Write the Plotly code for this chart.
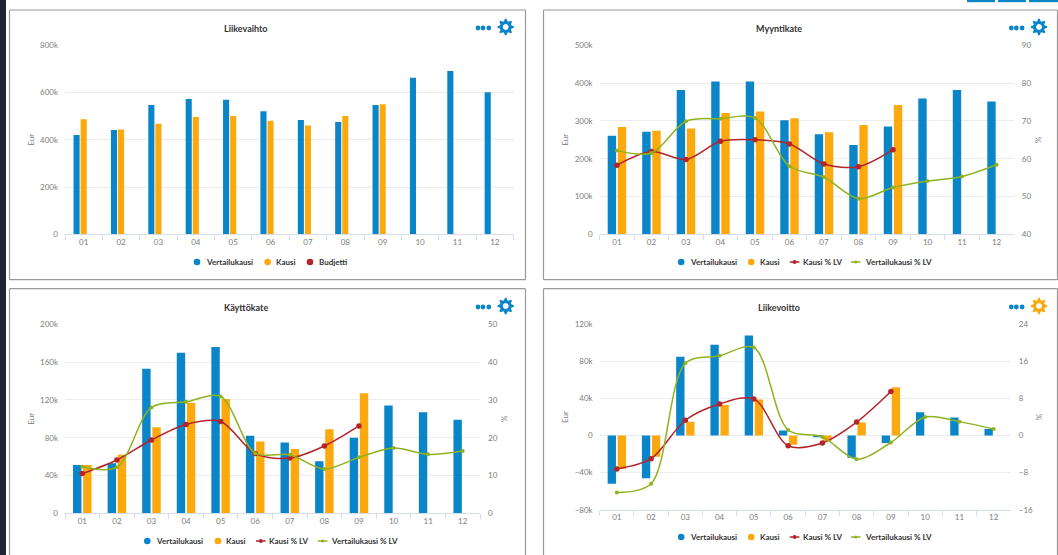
import math
import plotly.graph_objects as go

months = ["01", "02", "03", "04", "05", "06", "07", "08", "09", "10", "11", "12"]

lv_vertailu = [420, 442, 547, 573, 569, 521, 484, 475, 547, 663, 691, 601]
lv_kausi = [487, 444, 468, 497, 501, 481, 461, 501, 550, None, None, None]

mk_vertailu = [261, 271, 382, 404, 404, 302, 265, 236, 285, 359, 382, 351]
mk_kausi = [284, 274, 280, 321, 325, 307, 270, 289, 342, None, None, None]
mk_kausi_pct = [58.3, 61.9, 59.8, 64.6, 65.0, 63.9, 58.6, 57.9, 62.4, None, None, None]
mk_vert_pct = [62.2, 61.5, 69.9, 70.6, 70.8, 58.0, 55.1, 49.4, 52.4, 54.1, 55.3, 58.4]

kk_vertailu = [51, 53, 153, 170, 176, 82, 75, 55, 80, 114, 107, 99]
kk_kausi = [51, 62, 91, 117, 121, 76, 68, 89, 127, None, None, None]
kk_kausi_pct = [10.5, 14.1, 19.4, 23.5, 24.3, 15.8, 14.6, 17.8, 23.1, None, None, None]
kk_vert_pct = [12.3, 12.2, 28.0, 29.5, 30.9, 15.9, 15.5, 11.7, 14.8, 17.3, 15.6, 16.5]

lo_vertailu = [-52, -46, 85, 98, 108, 5.5, -1, -24, -8, 25, 19.5, 7]
lo_kausi = [-36, -23, 15, 33, 39, -10, -6, 14, 52, None, None, None]
lo_kausi_pct = [-7.2, -5.0, 3.3, 6.8, 7.9, -2.2, -1.6, 2.9, 9.5, None, None, None]
lo_vert_pct = [-12.3, -10.4, 15.6, 17.2, 19.0, 1.2, -0.3, -5.1, -1.5, 4.0, 3.0, 1.4]

W, H = 1058, 555
BLUE, ORANGE, RED, GREEN = "#0a85c7", "#fca90f", "#b5242a", "#8fb31f"
GRID, AXIS, TICK = "#ececec", "#d5dfec", "#7d7d7d"
TICKFONT = dict(family="Lato", size=8, color=TICK)
TITLEFONT = dict(family="Lato", size=8, color=TICK)
LEGFONT = dict(family="Lato", size=8, color="#333333", weight="bold")


def fx(p):
    return p / W


def fy(p):
    return 1 - p / H


fig = go.Figure()
shapes, annotations = [], []


def gear_path(cx, cy, ro=8.2, ri=5.9, hole=2.9, teeth=8):
    pts = []
    n = teeth * 4
    for i in range(n):
        a = 2 * math.pi * (i - 0.5) / n
        r = ro if i % 4 in (0, 1) else ri
        pts.append((cx + r * math.cos(a), cy + r * math.sin(a)))
    d = "M" + " L".join(f"{fx(x):.5f},{fy(y):.5f}" for x, y in pts) + " Z "
    hp = [(cx + hole * math.cos(-2 * math.pi * i / 24), cy + hole * math.sin(-2 * math.pi * i / 24)) for i in range(24)]
    d += "M" + " L".join(f"{fx(x):.5f},{fy(y):.5f}" for x, y in reversed(hp)) + " Z"
    return d


def line(x0, y0, x1, y1, color, width):
    shapes.append(dict(type="line", xref="paper", yref="paper", x0=fx(x0), x1=fx(x1), y0=fy(y0), y1=fy(y1),
                       line=dict(color=color, width=width)))


def dot(cx, cy, r, color):
    shapes.append(dict(type="circle", xref="paper", yref="paper", line_width=0, fillcolor=color,
                       x0=fx(cx - r), x1=fx(cx + r), y0=fy(cy + r), y1=fy(cy - r)))


def label(text, x, y, font, anchor="left", angle=0):
    annotations.append(dict(text=text, xref="paper", yref="paper", x=fx(x), y=fy(y), showarrow=False,
                            xanchor=anchor, yanchor="middle", font=font, borderpad=0, textangle=angle))


def legend(entries, y):
    for kind, color, mx, text, tx in entries:
        if kind == "dot":
            dot(mx, y, 3.3, color)
        else:
            line(mx - 4.8, y, mx + 4.8, y, color, 1.5)
            dot(mx, y, 2.0 if color == RED else 1.6, color)
        label(text, tx, y, LEGFONT)


def panel(idx, box, plot, title, title_xy, left, right, vert, kausi, kausi_pct, vert_pct, leg, icon_y,
          closed=True, gear_color=BLUE, three=False, bar=(0.243, 0.293)):
    xn = "x" if idx == 1 else f"x{idx}"
    yl_i = 2 * idx - 1
    yr_i = 2 * idx
    yl = "y" if yl_i == 1 else f"y{yl_i}"
    yr = f"y{yr_i}"
    px0, py0, px1, py1 = plot

    fig.update_layout({
        ("xaxis" if idx == 1 else f"xaxis{idx}"): dict(
            domain=[fx(px0), fx(px1)], anchor=yl, type="category", tickson="boundaries",
            range=[-0.5, len(months) - 0.5], autorange=False,
            ticks="outside", ticklen=5, tickcolor=AXIS, showline=True, linecolor=AXIS, linewidth=1,
            showgrid=False, tickfont=TICKFONT, automargin=False),
        ("yaxis" if idx == 1 else f"yaxis{yl_i}"): dict(
            domain=[fy(py1), fy(py0)], anchor=xn, range=left[0], dtick=left[1], tickformat="~s",
            gridcolor=GRID, gridwidth=1, zeroline=False, showline=False, tickfont=TICKFONT, ticklabelstandoff=6,
            automargin=False, title=dict(text="Eur", standoff=4, font=TITLEFONT)),
    })
    w, p = bar
    fig.add_bar(x=months, y=[None if v is None else v * 1000 for v in vert], xaxis=xn, yaxis=yl,
                marker=dict(color=BLUE, line_width=0), width=w,
                offset=(-p - w / 2) if three else -(p + w) / 2, name="Vertailukausi")
    fig.add_bar(x=months, y=[None if v is None else v * 1000 for v in kausi], xaxis=xn, yaxis=yl,
                marker=dict(color=ORANGE, line_width=0), width=w,
                offset=(-w / 2) if three else (p - w) / 2, name="Kausi")
    if right is not None:
        fig.update_layout({f"yaxis{yr_i}": dict(
            domain=[fy(py1), fy(py0)], anchor=xn, overlaying=yl, side="right", range=right[0], dtick=right[1],
            showgrid=False, zeroline=False, showline=False, tickfont=TICKFONT, ticklabelstandoff=7,
            automargin=False, title=dict(text="%", standoff=4, font=TITLEFONT))})
        fig.add_scatter(x=months, y=kausi_pct, xaxis=xn, yaxis=yr, mode="lines+markers", name="Kausi % LV",
                        line=dict(color=RED, width=1.5, shape="spline", smoothing=0.9),
                        marker=dict(color=RED, size=5.5, symbol="circle"))
        fig.add_scatter(x=months, y=vert_pct, xaxis=xn, yaxis=yr, mode="lines+markers", name="Vertailukausi % LV",
                        line=dict(color=GREEN, width=1.5, shape="spline", smoothing=0.9),
                        marker=dict(color=GREEN, size=4, symbol="circle"))

    legend(leg[0], leg[1])

    x0, y0, x1, y1 = box
    b = "#9a9a9a"
    line(x0, y0, x1, y0, b, 1.2)
    line(x0, y0, x0, y1, b, 1.2)
    line(x1, y0, x1, y1, b, 1.2)
    if closed:
        line(x0, y1, x1, y1, b, 1.2)
    label(title, title_xy[0], title_xy[1], dict(family="Lato", size=9, color="#333333", weight="bold"), "center")
    gx = x1 - 19.8 if x1 < 600 else x1 - 18.5
    for dx in (-27.7, -22.7, -16.9):
        dot(gx + dx, icon_y + 1, 2.4, BLUE)
    shapes.append(dict(type="path", xref="paper", yref="paper", path=gear_path(gx, icon_y), fillcolor=gear_color, line_width=0))


LEG_RIGHT = [("dot", BLUE, 681.2, "Vertailukausi", 689), ("dot", ORANGE, 751.2, "Kausi", 759.3),
             ("line", RED, 794.6, "Kausi % LV", 802), ("line", GREEN, 855.8, "Vertailukausi % LV", 863.7)]
LEG_K = [("dot", BLUE, 147.3, "Vertailukausi", 155), ("dot", ORANGE, 218, "Kausi", 225.3),
         ("line", RED, 260.8, "Kausi % LV", 268), ("line", GREEN, 322.6, "Vertailukausi % LV", 329.7)]
LEG_L = [("dot", BLUE, 197, "Vertailukausi", 204.7), ("dot", ORANGE, 267.6, "Kausi", 275.3),
         ("dot", RED, 310, "Budjetti", 318)]

panel(1, (9.5, 10, 525.5, 279.7), (65, 45.3, 513.5, 234.3), "Liikevaihto", (245.5, 28),
      ([0, 800000], 200000), None, lv_vertailu, lv_kausi, None, None, (LEG_L, 262), 27,
      three=True, bar=(0.163, 0.19))
panel(2, (543.5, 10, 1057.5, 279.7), (599.7, 45.3, 1013.8, 234.3), "Myyntikate", (779, 28),
      ([0, 500000], 100000), ([40, 90], 10), mk_vertailu, mk_kausi, mk_kausi_pct, mk_vert_pct, (LEG_RIGHT, 262), 27)
panel(3, (9.5, 288.7, 525.5, 555), (65, 324.3, 480, 513.3), "Käyttökate", (245.5, 307),
      ([0, 200000], 40000), ([0, 50], 10), kk_vertailu, kk_kausi, kk_kausi_pct, kk_vert_pct, (LEG_K, 541), 306,
      closed=False)
panel(4, (543.5, 288.7, 1057.5, 555), (599.7, 324.3, 1010.8, 509.7), "Liikevoitto", (779, 307),
      ([-80000, 120000], 40000), ([-16, 24], 8), lo_vertailu, lo_kausi, lo_kausi_pct, lo_vert_pct, (LEG_RIGHT, 537), 306,
      closed=False, gear_color=ORANGE)

# page furniture: dark sidebar and the blue toolbar buttons at the top right
shapes.append(dict(type="rect", xref="paper", yref="paper", x0=0, x1=fx(6), y0=0, y1=1,
                   fillcolor="#1f2433", line_width=0, layer="below"))
for a, b in [(967, 995), (998, 1026), (1029, 1058)]:
    shapes.append(dict(type="rect", xref="paper", yref="paper", x0=fx(a), x1=fx(b), y0=fy(2.2), y1=1,
                       fillcolor=BLUE, line_width=0))

fig.update_layout(width=W, height=H, margin=dict(l=0, r=0, t=0, b=0, pad=0, autoexpand=False), paper_bgcolor="white",
                  plot_bgcolor="rgba(0,0,0,0)", barmode="overlay", shapes=shapes, annotations=annotations,
                  hovermode="closest", showlegend=False)
fig.write_html("out.html", config=dict(displayModeBar=False),
               post_script="document.body.style.margin='0';document.body.style.overflow='hidden';")
